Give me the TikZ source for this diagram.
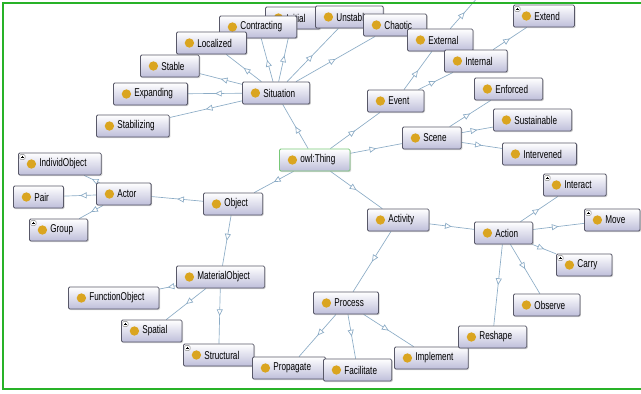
\documentclass[tikz,border=0pt]{standalone}
\usepackage{fontspec}
\newfontfamily\owlfont[FakeStretch=0.72]{Liberation Sans}
\usetikzlibrary{shapes,arrows.meta,positioning,calc,shadows,backgrounds,decorations.markings}

\definecolor{owlgold}{RGB}{218,165,32}
\definecolor{owlline}{RGB}{140,172,198}
\definecolor{owlborder}{RGB}{88,88,104}
\definecolor{owlshade}{RGB}{190,190,218}
\definecolor{owlgreen}{RGB}{120,200,120}
\definecolor{framegreen}{RGB}{40,178,40}

\newcommand{\owlicon}{\fill[owlgold] ([xshift=9.75pt]path picture bounding box.west) circle (3.5pt);}
\newcommand{\owlplus}{%
  \draw[gray,fill=white,line width=0.3pt] ([xshift=1pt,yshift=-1pt]path picture bounding box.north west) rectangle ++(4pt,-4pt);
  \draw[black,line width=0.35pt] ([xshift=1.9pt,yshift=-3pt]path picture bounding box.north west) -- ++(2.2pt,0pt)
    ([xshift=3pt,yshift=-1.9pt]path picture bounding box.north west) -- ++(0pt,-2.2pt);}

\begin{document}
\begin{tikzpicture}[x=0.75pt, y=-0.75pt,
  cls/.style={draw=owlborder, line width=0.6pt, rounded corners=1pt, anchor=west,
    top color=white, bottom color=owlshade, minimum height=16.5pt, inner xsep=11pt,
    font=\owlfont\fontsize{8.5}{9}\selectfont,
    drop shadow={shadow xshift=0.8pt, shadow yshift=-0.8pt, opacity=0.35},
    execute at begin node={\hspace*{4.75pt}}, path picture={\owlicon}},
  clsplus/.style={cls, path picture={\owlicon\owlplus}},
  top/.style={cls, draw=owlgreen},
  isa/.style={draw=owlline, line width=0.5pt, postaction={decorate},
    decoration={markings, mark=at position 0.5 with {\arrow{Triangle[fill=white,length=5pt,width=4.5pt]}}}}]
  \useasboundingbox (0,0) rectangle (641,393);
  \clip (0,0) rectangle (641,393);

  % classes
  \node [cls] (initial) at (265,18) {Initial};
  \node [cls] (unstable) at (315,17) {Unstable};
  \node [cls] (contracting) at (219,27) {Contracting};
  \node [cls] (localized) at (176,43) {Localized};
  \node [cls] (stable) at (140,66) {Stable};
  \node [cls] (expanding) at (113,94) {Expanding};
  \node [cls] (stabilizing) at (96,126) {Stabilizing};
  \node [cls] (situation) at (242,93) {Situation};
  \node [cls] (chaotic) at (363,25) {Chaotic};
  \node [cls] (external) at (407,40) {External};
  \node [cls] (internal) at (444,61) {Internal};
  \node [clsplus] (extend) at (513,16) {Extend};
  \node [cls] (event) at (367,101) {Event};
  \node [cls] (enforced) at (474,89) {Enforced};
  \node [cls] (sustainable) at (493,120) {Sustainable};
  \node [cls] (intervened) at (502,154) {Intervened};
  \node [cls] (scene) at (402,138) {Scene};
  \node [top] (thing) at (279,160) {owl:Thing};
  \node [clsplus] (individ) at (18,164) {IndividObject};
  \node [cls] (pair) at (13,197) {Pair};
  \node [cls] (actor) at (96,194) {Actor};
  \node [clsplus] (group) at (29,230) {Group};
  \node [cls] (object) at (203,204) {Object};
  \node [cls] (material) at (176,277) {MaterialObject};
  \node [cls] (function) at (68,298) {FunctionObject};
  \node [clsplus] (spatial) at (121,331) {Spatial};
  \node [clsplus] (structural) at (183,355) {Structural};
  \node [cls] (propagate) at (252,368) {Propagate};
  \node [cls] (implement) at (394,358) {Implement};
  \node [cls] (facilitate) at (323,370) {Facilitate};
  \node [cls] (process) at (313,303) {Process};
  \node [cls] (reshape) at (458,337) {Reshape};
  \node [cls] (observe) at (513,305) {Observe};
  \node [clsplus] (carry) at (556,265) {Carry};
  \node [clsplus] (move) at (584,220) {Move};
  \node [clsplus] (interact) at (543,185) {Interact};
  \node [cls] (action) at (474,233) {Action};
  \node [cls] (activity) at (367,220) {Activity};
  \coordinate (offtop) at (479,-4);

  % subclass links
  \begin{scope}[on background layer]
    \foreach \a/\b in {thing/situation, thing/event, thing/scene, thing/activity, thing/object,
      situation/stable, situation/expanding, situation/stabilizing, situation/localized,
      situation/contracting, situation/initial, situation/unstable, situation/chaotic,
      event/external, event/internal, external/offtop, internal/extend,
      scene/enforced, scene/sustainable, scene/intervened,
      activity/action, activity/process,
      action/interact, action/move, action/carry, action/observe, action/reshape,
      process/propagate, process/facilitate, process/implement,
      object/actor, object/material,
      actor/individ, actor/pair, actor/group,
      material/function, material/spatial, material/structural}
      \draw [isa] (\a) -- (\b);
  \end{scope}

  \draw [framegreen, line width=1.5pt] (641,3) -- (3,3) -- (3,389) -- (641,389);
\end{tikzpicture}
\end{document}
